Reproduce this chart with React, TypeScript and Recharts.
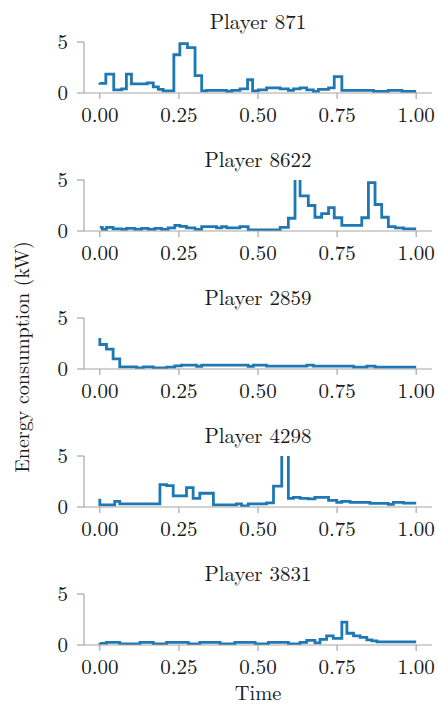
import React from 'react';
import { LineChart, Line, XAxis, YAxis } from 'recharts';

const PLAYERS = ['Player 871', 'Player 8622', 'Player 2859', 'Player 4298', 'Player 3831'];

const T_871 = [0, 0.019, 0.044, 0.069, 0.084, 0.1, 0.15, 0.169, 0.185, 0.2, 0.234, 0.253, 0.277, 0.301, 0.322, 0.338, 0.401, 0.417, 0.443, 0.467, 0.483, 0.501, 0.527, 0.57, 0.596, 0.612, 0.633, 0.654, 0.675, 0.691, 0.723, 0.741, 0.765, 0.865, 0.912, 0.955, 1.0];
const E_871 = [1.0, 0.95, 1.85, 0.3, 0.4, 1.85, 0.9, 1.0, 0.6, 0.35, 0.2, 3.75, 4.85, 4.45, 1.7, 0.2, 0.25, 0.15, 0.25, 0.4, 1.3, 0.2, 0.3, 0.5, 0.4, 0.25, 0.4, 0.5, 0.3, 0.15, 0.35, 0.5, 1.6, 0.25, 0.15, 0.25, 0.15];

const T_8622 = [0, 0.008, 0.021, 0.042, 0.069, 0.084, 0.111, 0.132, 0.153, 0.174, 0.195, 0.216, 0.237, 0.253, 0.274, 0.301, 0.322, 0.369, 0.385, 0.401, 0.443, 0.469, 0.57, 0.596, 0.617, 0.633, 0.659, 0.68, 0.701, 0.723, 0.741, 0.765, 0.828, 0.849, 0.87, 0.891, 0.912, 0.934, 0.96, 1.0];
const E_8622 = [0.35, 0.35, 0.15, 0.35, 0.2, 0.15, 0.25, 0.15, 0.25, 0.15, 0.25, 0.15, 0.3, 0.55, 0.45, 0.3, 0.15, 0.42, 0.3, 0.42, 0.3, 0.42, 0.12, 0.35, 1.25, 7.0, 3.45, 2.5, 1.35, 1.7, 2.3, 1.3, 0.55, 1.3, 4.75, 2.6, 1.35, 0.42, 0.3, 0.2];

const T_2859 = [0, 0.021, 0.042, 0.063, 0.116, 0.137, 0.169, 0.211, 0.237, 0.258, 0.306, 0.322, 0.469, 0.485, 0.527, 0.654, 0.675, 0.802, 0.844, 0.87, 1.0];
const E_2859 = [3.05, 2.4, 1.95, 1.0, 0.2, 0.12, 0.2, 0.1, 0.18, 0.3, 0.38, 0.25, 0.38, 0.25, 0.38, 0.28, 0.38, 0.28, 0.18, 0.28, 0.18];

const T_4298 = [0, 0.047, 0.063, 0.19, 0.211, 0.232, 0.274, 0.295, 0.316, 0.359, 0.432, 0.448, 0.469, 0.527, 0.549, 0.575, 0.596, 0.612, 0.633, 0.659, 0.68, 0.723, 0.749, 0.765, 0.791, 0.854, 0.912, 0.928, 0.96, 1.0];
const E_4298 = [0.8, 0.2, 0.55, 0.3, 2.2, 2.1, 1.1, 1.9, 0.85, 1.35, 0.2, 0.3, 0.12, 0.3, 0.4, 2.05, 8.0, 0.85, 0.95, 0.85, 0.8, 0.95, 0.65, 0.45, 0.55, 0.45, 0.35, 0.25, 0.45, 0.38];

const T_3831 = [0, 0.021, 0.063, 0.127, 0.169, 0.211, 0.28, 0.316, 0.38, 0.427, 0.491, 0.533, 0.596, 0.633, 0.654, 0.68, 0.696, 0.717, 0.738, 0.765, 0.781, 0.802, 0.823, 0.844, 0.86, 0.876, 1.0];
const E_3831 = [0.2, 0.15, 0.25, 0.12, 0.25, 0.12, 0.25, 0.12, 0.25, 0.12, 0.25, 0.12, 0.25, 0.12, 0.25, 0.45, 0.2, 0.55, 0.9, 0.65, 2.25, 1.15, 0.9, 0.75, 0.5, 0.4, 0.3];

const X_TICKS = [0, 0.25, 0.5, 0.75, 1];
const Y_TICKS = [0, 5];
const X_LABEL = 'Time';
const Y_LABEL = 'Energy consumption (kW)';

const SERIES: [number[], number[]][] = [
  [T_871, E_871],
  [T_8622, E_8622],
  [T_2859, E_2859],
  [T_4298, E_4298],
  [T_3831, E_3831],
];

const FONT = "'Latin Modern Roman'";
const AXIS = '#a6a6a6';
const TEXT = '#1a1a1a';
const BLUE = '#1f77b4';
const PANEL_H = 138;

const tickStyle = { fill: TEXT, fontSize: 21, style: { fontFamily: FONT } };

function Panel({ times, values, top }: { times: number[]; values: number[]; top: number }) {
  const data = times.map((t, i) => ({ t, e: values[i] }));
  return (
    <div style={{ position: 'absolute', left: 0, top, width: 438, height: PANEL_H }}>
      <LineChart width={438} height={PANEL_H} data={data} margin={{ top: 42, right: 6, bottom: 0, left: 0 }}>
        <XAxis
          type="number"
          dataKey="t"
          domain={[-0.05, 1.05]}
          allowDataOverflow
          ticks={X_TICKS}
          interval={0}
          tickFormatter={(v: number) => v.toFixed(2)}
          height={45}
          tickSize={6}
          tickMargin={8}
          stroke={AXIS}
          axisLine={{ stroke: AXIS, strokeWidth: 1.2 }}
          tickLine={{ stroke: AXIS, strokeWidth: 1.2 }}
          tick={tickStyle}
        />
        <YAxis
          type="number"
          domain={[0, 5]}
          allowDataOverflow
          ticks={Y_TICKS}
          interval={0}
          width={84}
          tickSize={7}
          tickMargin={9}
          stroke={AXIS}
          axisLine={{ stroke: AXIS, strokeWidth: 1.2 }}
          tickLine={{ stroke: AXIS, strokeWidth: 1.2 }}
          tick={tickStyle}
        />
        <Line
          type="stepBefore"
          dataKey="e"
          stroke={BLUE}
          strokeWidth={2.8}
          dot={false}
          isAnimationActive={false}
        />
      </LineChart>
    </div>
  );
}

export default function App() {
  return (
    <div style={{ position: 'absolute', left: 0, top: 0, width: 438, height: 707, background: '#fff' }}>
      {SERIES.map(([t, e], i) => (
        <Panel key={PLAYERS[i]} times={t} values={e} top={PANEL_H * i} />
      ))}
      <svg width={438} height={707} style={{ position: 'absolute', left: 0, top: 0, pointerEvents: 'none' }}>
        {PLAYERS.map((p, i) => (
          <text key={p} x={258} y={PANEL_H * i + 28.5} textAnchor="middle" fontSize={21} style={{ fontFamily: FONT }} fill={TEXT}>
            {p}
          </text>
        ))}
        <text x={258} y={700} textAnchor="middle" fontSize={20.5} style={{ fontFamily: FONT }} fill={TEXT}>
          {X_LABEL}
        </text>
        <text transform="translate(29,357) rotate(-90)" textAnchor="middle" fontSize={20} style={{ fontFamily: FONT }} fill={TEXT}>
          {Y_LABEL}
        </text>
      </svg>
    </div>
  );
}
